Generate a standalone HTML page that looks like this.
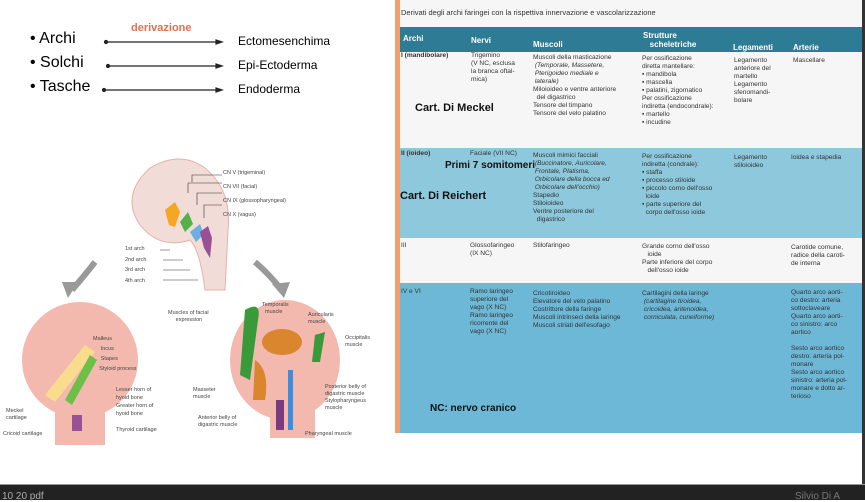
<!DOCTYPE html>
<html><head><meta charset="utf-8"><style>
body{margin:0;width:865px;height:499px;overflow:hidden;background:#fff;font-family:"Liberation Sans",sans-serif;position:relative}
.a{position:absolute;white-space:nowrap}
.t{position:absolute;font-size:6.6px;line-height:8px;color:#333;white-space:nowrap}
.h{position:absolute;font-size:8px;font-weight:bold;color:#fff}
.lb{position:absolute;font-size:5.5px;color:#444;white-space:nowrap;line-height:7px}
.big{position:absolute;font-size:11px;font-weight:bold;color:#111;white-space:nowrap}
</style></head><body>
<div>
<div class="a" style="left:30px;top:30px;font-size:16px">• Archi</div>
<div class="a" style="left:30px;top:54px;font-size:16px">• Solchi</div>
<div class="a" style="left:30px;top:78px;font-size:16px">• Tasche</div>
<div class="a" style="left:131px;top:22px;font-size:11px;font-weight:bold;color:#e07050">derivazione</div>
<svg class="a" style="left:0;top:0" width="395" height="499">
<g stroke="#222" stroke-width="1.2" fill="#222">
<line x1="106" y1="42" x2="220" y2="42"/><polygon points="222,42 216,40 216,44"/><circle cx="106" cy="42" r="1.5"/>
<line x1="108" y1="66" x2="220" y2="66"/><polygon points="222,66 216,64 216,68"/><circle cx="108" cy="66" r="1.5"/>
<line x1="104" y1="90" x2="220" y2="90"/><polygon points="222,90 216,88 216,92"/><circle cx="104" cy="90" r="1.5"/>
</g>
<path d="M150,168 Q180,150 205,168 Q232,190 228,230 L225,290 L205,290 Q200,250 190,240 Q160,250 140,225 Q120,195 150,168Z" fill="#f1dcd8" stroke="#e8b0a8"/>
<path d="M165,210 l10,-8 l5,10 l-5,15 l-6,-2z" fill="#f5a623"/>
<path d="M180,222 l8,-10 l5,12 l-8,8z" fill="#55b04a"/>
<path d="M190,232 l10,-8 l4,10 l-8,8z" fill="#6ab0e0"/>
<path d="M200,232 l8,-6 l4,12 l-2,20 l-6,-10z" fill="#9b4f96"/>
<path d="M95,262 Q85,275 72,290" stroke="#999" stroke-width="6" fill="none"/><polygon points="62,282 78,282 68,298" fill="#999"/>
<path d="M255,262 Q270,275 280,288" stroke="#999" stroke-width="6" fill="none"/><polygon points="272,284 290,282 284,298" fill="#999"/>
<ellipse cx="80" cy="360" rx="58" ry="58" fill="#f4b9ae"/><rect x="55" y="400" width="50" height="45" fill="#f4b9ae"/>
<path d="M45,395 L85,345 L95,352 L55,402z" fill="#f9dc8e"/>
<path d="M65,400 L90,355 L97,360 L72,405z" fill="#6cc04a"/>
<rect x="72" y="415" width="10" height="16" fill="#9b4f96"/>
<ellipse cx="285" cy="360" rx="55" ry="60" fill="#f4b9ae"/><rect x="270" y="400" width="45" height="38" fill="#f4b9ae"/>
<path d="M245,310 Q262,300 258,320 L250,380 L240,375z" fill="#3a9a3a"/>
<ellipse cx="282" cy="342" rx="20" ry="13" fill="#d9862f"/>
<path d="M315,335 l10,-3 l-5,30 l-8,0z" fill="#3a9a3a"/>
<path d="M255,360 q15,10 10,40 l-12,0z" fill="#d9862f"/>
<rect x="288" y="370" width="5" height="60" fill="#3b8de0"/>
<rect x="276" y="400" width="8" height="30" fill="#7a3a80"/>
<g stroke="#333" stroke-width="0.6" fill="none">
<path d="M192,182 V175 H222 M188,193 V183 H222 M197,205 V193 H222 M204,218 V205 H222"/>
<path d="M160,250 H170 M163,260 H183 M163,270 H190 M163,280 H198"/>
</g>
</svg>
<div class="a" style="left:238px;top:34px;font-size:12px">Ectomesenchima</div>
<div class="a" style="left:238px;top:58px;font-size:12px">Epi-Ectoderma</div>
<div class="a" style="left:238px;top:82px;font-size:12px">Endoderma</div>
<div class="lb" style="left:223px;top:170px">CN V (trigeminal)<br>&nbsp;<br>CN VII (facial)<br>&nbsp;<br>CN IX (glossopharyngeal)<br>&nbsp;<br>CN X (vagus)</div>
<div class="lb" style="left:125px;top:244px;line-height:10.5px">1st arch<br>2nd arch<br>3rd arch<br>4th arch</div>
<div class="lb" style="left:90px;top:334px;line-height:10px">&nbsp;&nbsp;Malleus<br>&nbsp;&nbsp;&nbsp;&nbsp;&nbsp;&nbsp;&nbsp;Incus<br>&nbsp;&nbsp;&nbsp;&nbsp;&nbsp;&nbsp;&nbsp;Stapes<br>&nbsp;&nbsp;&nbsp;&nbsp;&nbsp;&nbsp;Styloid process</div>
<div class="lb" style="left:116px;top:386px;line-height:8px">Lesser horn of<br>hyoid bone<br>Greater horn of<br>hyoid bone<br><br>Thyroid cartilage</div>
<div class="lb" style="left:6px;top:408px">Meckel<br>cartilage</div>
<div class="lb" style="left:3px;top:431px">Cricoid cartilage</div>
<div class="lb" style="left:168px;top:310px">Muscles of facial<br>&nbsp;&nbsp;&nbsp;&nbsp;&nbsp;expression</div>
<div class="lb" style="left:262px;top:302px">Temporalis<br>&nbsp;&nbsp;muscle</div>
<div class="lb" style="left:308px;top:312px">Auricularis<br>muscle</div>
<div class="lb" style="left:345px;top:335px">Occipitalis<br>muscle</div>
<div class="lb" style="left:193px;top:387px">Masseter<br>muscle</div>
<div class="lb" style="left:198px;top:415px">Anterior belly of<br>digastric muscle</div>
<div class="lb" style="left:325px;top:384px">Posterior belly of<br>digastric muscle<br>Stylopharyngeus<br>muscle</div>
<div class="lb" style="left:305px;top:431px">Pharyngeal muscle</div>
</div>
<div style="position:absolute;left:395px;top:0;width:468px;height:433px;background:#f7f6f6">
<div style="position:absolute;left:0;top:0;width:5px;height:433px;background:#f0a070"></div>
<div class="a" style="left:6px;top:8px;font-size:7.5px;color:#333">Derivati degli archi faringei con la rispettiva innervazione e vascolarizzazione</div>
<div style="position:absolute;left:5px;top:27px;width:463px;height:25px;background:#2d7b95"></div>
<div style="position:absolute;left:5px;top:148px;width:463px;height:90px;background:#8ec8dd"></div>
<div style="position:absolute;left:5px;top:283px;width:463px;height:150px;background:#6db8d6"></div>
<div class="h" style="left:8px;top:34px">Archi</div><div class="h" style="left:76px;top:36px">Nervi</div><div class="h" style="left:138px;top:40px">Muscoli</div>
<div class="h" style="left:248px;top:31px">Strutture<br>&nbsp;&nbsp;&nbsp;scheletriche</div><div class="h" style="left:338px;top:43px">Legamenti</div><div class="h" style="left:398px;top:43px">Arterie</div>
<div class="t" style="left:6px;top:52px;font-weight:bold">I (mandibolare)</div>
<div class="t" style="left:76px;top:52px">Trigemino<br>(V NC, esclusa<br>la branca oftal-<br>mica)</div>
<div class="t" style="left:138px;top:54px">Muscoli della masticazione<br><i>&nbsp;(Temporale, Massetere,<br>&nbsp;Pterigoideo mediale e<br>&nbsp;laterale)</i><br>Miloioideo e ventre anteriore<br>&nbsp;&nbsp;del digastrico<br>Tensore del timpano<br>Tensore del velo palatino</div>
<div class="t" style="left:247px;top:55px">Per ossificazione<br>diretta mantellare:<br>▪ mandibola<br>▪ mascella<br>▪ palatini, zigomatico<br>Per ossificazione<br>indiretta (endocondrale):<br>▪ martello<br>▪ incudine</div>
<div class="t" style="left:339px;top:57px">Legamento<br>anteriore del<br>martello<br>Legamento<br>sfenomandi-<br>bolare</div>
<div class="t" style="left:398px;top:57px">Mascellare</div>
<div class="big" style="left:20px;top:102px">Cart. Di Meckel</div>
<div class="t" style="left:6px;top:150px;font-weight:bold">II (ioideo)</div>
<div class="t" style="left:75px;top:150px">Faciale (VII NC)</div>
<div class="big" style="left:50px;top:160px;font-size:10px">Primi 7 somitomeri</div>
<div class="big" style="left:5px;top:190px">Cart. Di Reichert</div>
<div class="t" style="left:138px;top:152px">Muscoli mimici facciali<br><i>&nbsp;(Buccinatore, Auricolare,<br>&nbsp;Frontale, Platisma,<br>&nbsp;Orbicolare della bocca ed<br>&nbsp;Orbicolare dell'occhio)</i><br>Stapedio<br>Stiloioideo<br>Ventre posteriore del<br>&nbsp;&nbsp;digastrico</div>
<div class="t" style="left:247px;top:153px">Per ossificazione<br>indiretta (condrale):<br>▪ staffa<br>▪ processo stiloide<br>▪ piccolo corno dell'osso<br>&nbsp;&nbsp;ioide<br>▪ parte superiore del<br>&nbsp;&nbsp;corpo dell'osso ioide</div>
<div class="t" style="left:339px;top:154px">Legamento<br>stiloioideo</div>
<div class="t" style="left:396px;top:154px">Ioidea e stapedia</div>
<div class="t" style="left:6px;top:242px">III</div>
<div class="t" style="left:75px;top:242px">Glossofaringeo<br>(IX NC)</div>
<div class="t" style="left:138px;top:242px">Stilofaringeo</div>
<div class="t" style="left:247px;top:243px">Grande corno dell'osso<br>&nbsp;&nbsp;&nbsp;ioide<br>Parte inferiore del corpo<br>&nbsp;&nbsp;&nbsp;dell'osso ioide</div>
<div class="t" style="left:396px;top:244px">Carotide comune,<br>radice della caroti-<br>de interna</div>
<div class="t" style="left:6px;top:288px">IV e VI</div>
<div class="t" style="left:75px;top:288px">Ramo laringeo<br>superiore del<br>vago (X NC)<br>Ramo laringeo<br>ricorrente del<br>vago (X NC)</div>
<div class="t" style="left:138px;top:290px">Cricotiroideo<br>Elevatore del velo palatino<br>Costrittore della faringe<br>Muscoli intrinseci della laringe<br>Muscoli striati dell'esofago</div>
<div class="t" style="left:247px;top:290px">Cartilagini della laringe<br><i>&nbsp;(cartilagine tiroidea,<br>&nbsp;cricoidea, aritenoidea,<br>&nbsp;corniculata, cuneiforme)</i></div>
<div class="t" style="left:396px;top:289px">Quarto arco aorti-<br>co destro: arteria<br>sottoclaveare<br>Quarto arco aorti-<br>co sinistro: arco<br>aortico<br><br>Sesto arco aortico<br>destro: arteria pol-<br>monare<br>Sesto arco aortico<br>sinistro: arteria pol-<br>monare e dotto ar-<br>terioso</div>
<div class="big" style="left:35px;top:403px;font-size:10px">NC: nervo cranico</div>
</div>
<div style="position:absolute;left:862px;top:0;width:3px;height:499px;background:#333"></div>
<div style="position:absolute;left:0;top:484px;width:865px;height:15px;background:#222;border-top:1px solid #999"><span style="position:absolute;left:2px;top:6px;font-size:10px;color:#aaa">10 20 pdf</span><span style="position:absolute;left:795px;top:6px;font-size:10px;color:#777">Silvio Di A</span></div>
</body></html>
